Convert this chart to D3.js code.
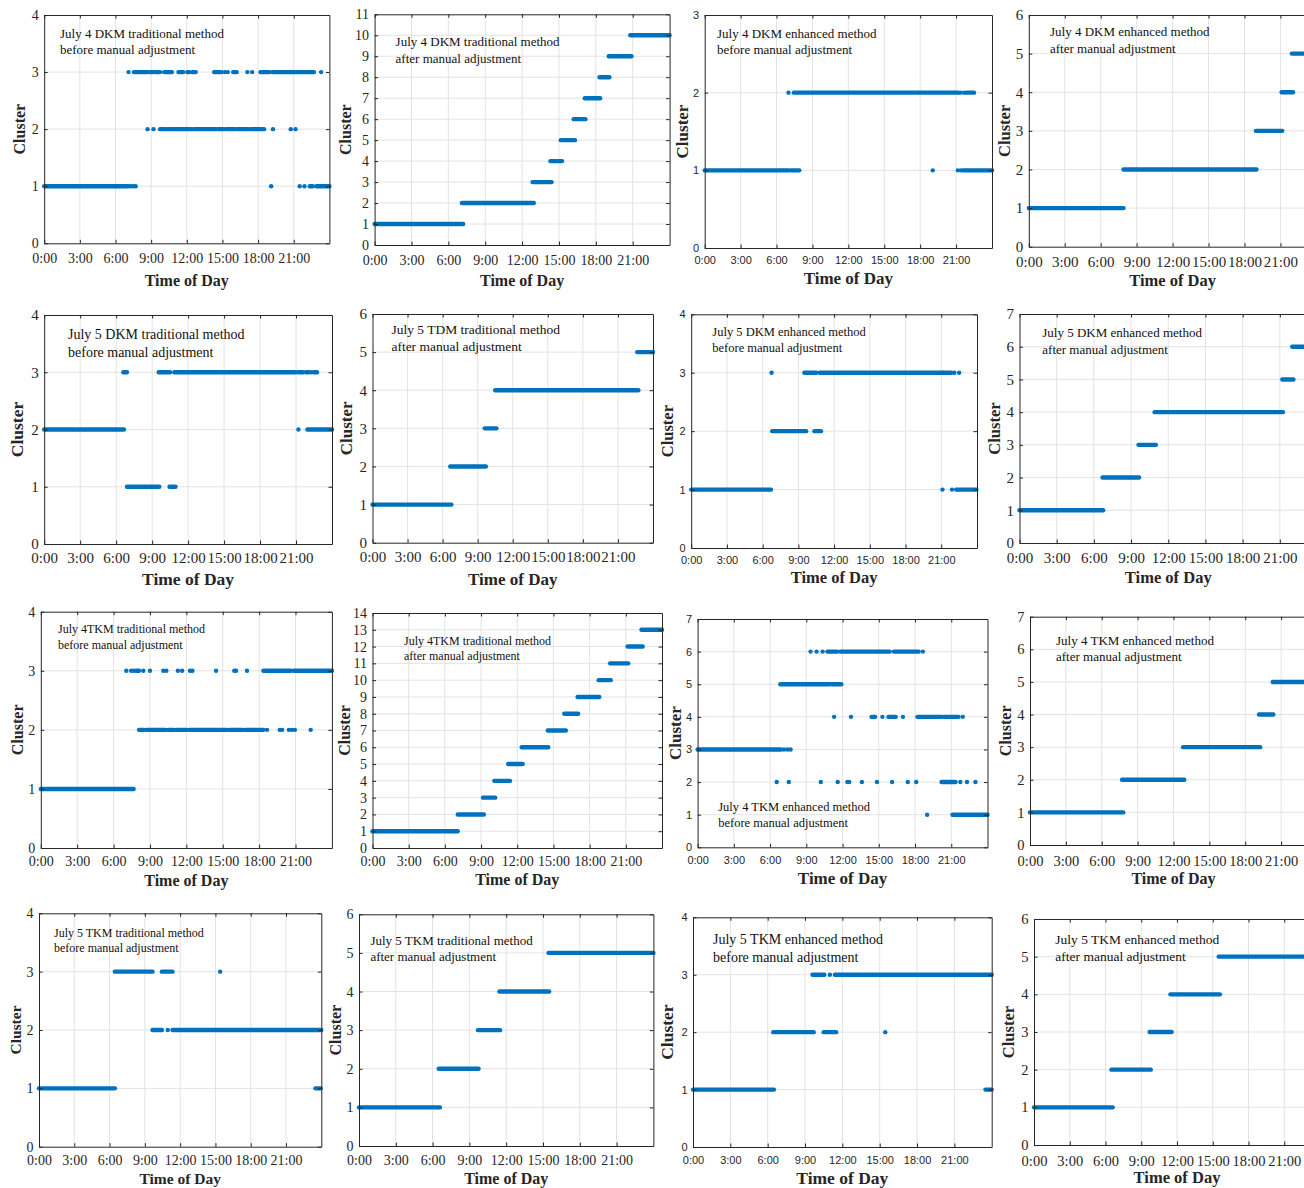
<!DOCTYPE html>
<html>
<head>
<meta charset="utf-8">
<title>Cluster timelines</title>
<script src="https://cdn.jsdelivr.net/npm/d3@7"></script>
<style>
  * { margin: 0; padding: 0; }
  body { background: #fff; }
  svg { display: block; }
</style>
</head>
<body>
<div id="chart"></div>
<script>
// runs are [cluster, startHour, endHour]; single samples are [cluster, hour]
var jul4DkmTradBefore = [
  [1,0,7.1],[1,7.3],[1,7.5],[1,7.7],[1,19.1],[1,21.5],[1,21.9],[1,22.35,22.6],[1,22.9,24],
  [2,8.7],[2,9.2],[2,9.75,10.3],[2,10.5,11.5],[2,11.6,12.4],[2,12.6,14.4],[2,14.6,15.1],[2,15.3,16.0],
  [2,16.2,17.2],[2,17.4,18.5],[2,19.25],[2,20.75],[2,21.15],
  [3,7.1],[3,7.55,8.7],[3,8.9,9.2],[3,9.4,9.75],[3,10.1,10.75],[3,11.3,11.7],[3,12.05,12.2],[3,12.45,12.75],
  [3,14.3,14.9],[3,15.2],[3,15.45],[3,15.9,16.2],[3,17.1],[3,17.5],[3,18.2,19.0],[3,19.25,22.7],[3,23.3]
];
var jul4DkmTradAfter = [
  [1,0,7.2],[2,7.1,12.95],[3,12.85,14.4],[4,14.3,15.25],[5,15.15,16.3],[6,16.2,17.15],
  [7,17.1,18.35],[8,18.3,19.1],[9,19.05,20.9],[10,20.8,24]
];
var jul4DkmEnhBefore = [
  [1,0,7.0],[1,7.2,7.9],[1,19.05],[1,21.15],[1,21.4],[1,21.6,24],
  [2,7.0],[2,7.45,21.2],[2,21.4],[2,21.7],[2,21.9,22.5]
];
var jul4DkmEnhAfter = [
  [1,0,7.9],[2,7.9,19.0],[3,18.95,21.15],[4,21.1,22.05],[5,21.95,24]
];
var jul5DkmTradBefore = [
  [2,0,6.65],[2,21.2],[2,21.95,24],
  [3,6.6,6.9],[3,9.55,10.5],[3,10.85,21.0],[3,21.2,21.6],[3,21.85,22.1],[3,22.3],[3,22.5,22.75],
  [1,6.9,9.6],[1,10.45,10.95]
];
var jul5TdmTradAfter = [
  [1,0,6.75],[2,6.65,9.7],[3,9.6,10.6],[4,10.5,22.75],[5,22.65,24]
];
var jul5DkmEnhBefore = [
  [1,0,6.7],[1,21.1],[1,21.9],[1,22.25,23.95],
  [3,6.75],[3,9.5,10.5],[3,10.8,21.1],[3,21.15,21.85],[3,22.1],[3,22.5],
  [2,6.8,9.65],[2,10.35,10.9]
];
var jul5DkmEnhAfter = [
  [1,0,6.75],[2,6.7,9.65],[3,9.6,11.0],[4,10.9,21.25],[5,21.2,22.1],[6,22.0,24]
];
var jul4TkmTradBefore = [
  [1,0,7.0],[1,7.1,7.65],
  [2,8.1,8.5],[2,8.7,10.3],[2,10.5,11.0],[2,11.2,12.0],[2,12.2,15.3],[2,15.5,16.7],[2,16.9,18.35],
  [2,18.65],[2,19.7],[2,19.9],[2,20.45],[2,20.7],[2,20.95],[2,22.25],
  [3,7.05],[3,7.45],[3,7.65],[3,7.85,8.1],[3,8.45],[3,9.0],[3,10.1],[3,10.35],[3,11.3],[3,11.65],
  [3,12.3],[3,12.5],[3,14.45],[3,15.95],[3,16.1],[3,17.0],[3,18.35,20.6],[3,20.85,24]
];
var jul4TkmTradAfter = [
  [1,0,7.07],[2,7.07,9.23],[3,9.16,10.17],[4,10.1,11.4],[5,11.25,12.45],[6,12.37,14.57],[7,14.53,16.03],
  [8,15.9,17.05],[9,17.0,18.8],[10,18.75,19.75],[11,19.7,21.2],[12,21.15,22.4],[13,22.3,24]
];
var jul4TkmEnhBefore = [
  [3,0,6.9],[3,7.15],[3,7.45],[3,7.7],
  [5,6.85,10.0],[5,10.05,10.9],[5,11.1,11.9],
  [6,9.35],[6,9.85],[6,10.35],[6,10.75,11.55],[6,11.8,15.9],[6,16.25,18.3],[6,18.65],
  [4,11.3],[4,12.7],[4,14.4,14.7],[4,15.3],[4,15.8,16.4],[4,17.0],[4,18.2,20.2],[4,20.4,21.6],[4,21.95],
  [2,6.55],[2,7.55],[2,10.2],[2,11.6],[2,12.4],[2,12.55],[2,13.6],[2,14.85],[2,16.1],[2,17.4],[2,18.1],
  [2,20.2,21.35],[2,21.75],[2,22.3],[2,23.0],
  [1,19.0],[1,21.1,24]
];
var jul4TkmEnhAfter = [
  [1,0,7.8],[2,7.7,12.9],[3,12.8,19.25],[4,19.15,20.35],[5,20.3,23.1],[6,23.1,24]
];
var jul5TkmTradBefore = [
  [1,0,6.45],[1,23.5,23.95],
  [3,6.45,9.65],[3,10.45,11.35],[3,15.4],
  [2,9.65,10.45],[2,10.95],[2,11.35,24]
];
var jul5TkmTradAfter = [
  [1,0,6.6],[2,6.5,9.75],[3,9.7,11.5],[4,11.45,15.5],[5,15.45,24]
];
var jul5TkmEnhBefore = [
  [1,0,6.5],[1,23.5,24],
  [3,9.6,10.55],[3,11.0],[3,11.4,24],
  [2,6.45,9.7],[2,10.5,11.5],[2,15.45]
];
var jul5TkmEnhAfter = [
  [1,0,6.6],[2,6.5,9.8],[3,9.7,11.55],[4,11.45,15.6],[5,15.5,24]
];

var panelData = [
  jul4DkmTradBefore, jul4DkmTradAfter, jul4DkmEnhBefore, jul4DkmEnhAfter,
  jul5DkmTradBefore, jul5TdmTradAfter, jul5DkmEnhBefore, jul5DkmEnhAfter,
  jul4TkmTradBefore, jul4TkmTradAfter, jul4TkmEnhBefore, jul4TkmEnhAfter,
  jul5TkmTradBefore, jul5TkmTradAfter, jul5TkmEnhBefore, jul5TkmEnhAfter
];
var clusterMax = [4, 11, 3, 6, 4, 6, 4, 7, 4, 14, 7, 7, 4, 6, 4, 6];
var titleTop = [
  'July 4 DKM traditional method', 'July 4 DKM traditional method',
  'July 4 DKM enhanced method', 'July 4 DKM enhanced method',
  'July 5 DKM traditional method', 'July 5 TDM traditional method',
  'July 5 DKM enhanced method', 'July 5 DKM enhanced method',
  'July 4TKM traditional method', 'July 4TKM traditional method',
  'July 4 TKM enhanced method', 'July 4 TKM enhanced method',
  'July 5 TKM traditional method', 'July 5 TKM traditional method',
  'July 5 TKM enhanced method', 'July 5 TKM enhanced method'
];
var titleBottom = [
  'before manual adjustment', 'after manual adjustment',
  'before manual adjustment', 'after manual adjustment',
  'before manual adjustment', 'after manual adjustment',
  'before manual adjustment', 'after manual adjustment',
  'before manual adjustment', 'after manual adjustment',
  'before manual adjustment', 'after manual adjustment',
  'before manual adjustment', 'after manual adjustment',
  'before manual adjustment', 'after manual adjustment'
];
var tickHours = [0, 3, 6, 9, 12, 15, 18, 21];
var tickLabels = ['0:00', '3:00', '6:00', '9:00', '12:00', '15:00', '18:00', '21:00'];
var xTitle = 'Time of Day';
var yTitle = 'Cluster';

// where each small plot sits on the page
var layout = [
  {l:44.2, r:329.4, t:15, b:243.3, font:'serif', ts:14, xo:15, ls:16, cx:25, xly:280, tx:60, ty:33, tsz:13},
  {l:374.6, r:669.6, t:14.3, b:245, font:'serif', ts:14, xo:15, ls:16, cx:29.5, xly:280, tx:395.6, ty:41.7, tsz:13},
  {l:704.7, r:992, t:15, b:248, font:'sans', ts:11, xo:12, ls:17, cx:23, xly:278, tx:717, ty:33.3, tsz:13},
  {l:1028.8, r:1316.4, t:15, b:246.7, font:'serif', ts:15, xo:15.5, ls:16.5, cx:25, xly:280, tx:1050, ty:31.7, tsz:13},
  {l:44.2, r:332, t:315, b:544, font:'serif', ts:15, xo:14.5, ls:17.5, cx:27, xly:579.3, tx:68, ty:334.3, tsz:14},
  {l:372.5, r:653, t:314, b:542.7, font:'serif', ts:15, xo:14.5, ls:17, cx:26.5, xly:579, tx:391.4, ty:329.3, tsz:13.5},
  {l:691.2, r:977, t:314.3, b:548, font:'sans', ts:11, xo:12, ls:16.5, cx:23.5, xly:577.7, tx:712.3, ty:331.7, tsz:12.5},
  {l:1019.5, r:1317, t:314, b:543, font:'serif', ts:15, xo:15.5, ls:16.5, cx:25.5, xly:577.7, tx:1042.3, ty:332.7, tsz:13},
  {l:40.8, r:331.9, t:611.7, b:848, font:'serif', ts:14, xo:13.7, ls:16, cx:23, xly:880, tx:58, ty:629, tsz:12},
  {l:372.5, r:662, t:613, b:848, font:'serif', ts:14, xo:13.7, ls:16, cx:28.5, xly:879, tx:404, ty:640.7, tsz:12},
  {l:697.6, r:987.5, t:619, b:847.3, font:'sans', ts:11, xo:12.7, ls:17, cx:23, xly:878.3, tx:718.2, ty:806.7, tsz:12.5},
  {l:1030, r:1317, t:616.7, b:845, font:'serif', ts:14.5, xo:16, ls:16, cx:24.4, xly:878, tx:1056, ty:640, tsz:13},
  {l:39, r:321.3, t:913.3, b:1146.7, font:'serif', ts:14, xo:13.5, ls:15.5, cx:23, xly:1178.5, tx:54, ty:932.7, tsz:12},
  {l:359, r:653.4, t:914.3, b:1146, font:'serif', ts:14, xo:14, ls:16, cx:23.6, xly:1178, tx:370.4, ty:940, tsz:13},
  {l:693, r:991.7, t:917.3, b:1147, font:'sans', ts:11, xo:13, ls:17.5, cx:26, xly:1177.5, tx:713, ty:939.3, tsz:14},
  {l:1034, r:1320, t:919, b:1145, font:'serif', ts:14.5, xo:16, ls:16.5, cx:26, xly:1177.5, tx:1055.3, ty:939, tsz:13.5}
];

var SERIF = '"Liberation Serif", "Times New Roman", serif';
var SANS = '"Liberation Sans", Arial, sans-serif';
var blue = '#0072bd';
var ink = '#262626';

var svg = d3.select('#chart').append('svg')
    .attr('width', 1304)
    .attr('height', 1188);

panelData.forEach(function(runs, i) {
  var L = layout[i];
  var tickFont = L.font === 'sans' ? SANS : SERIF;
  var x = d3.scaleLinear().domain([0, 24]).range([L.l, L.r]);
  var y = d3.scaleLinear().domain([0, clusterMax[i]]).range([L.b, L.t]);
  var yTicks = d3.range(clusterMax[i] + 1);
  var g = svg.append('g');

  // grid
  g.selectAll('.vg').data(tickHours.slice(1)).enter().append('line')
    .attr('x1', function(d) { return x(d); }).attr('x2', function(d) { return x(d); })
    .attr('y1', L.t).attr('y2', L.b)
    .attr('stroke', '#e3e3e3').attr('stroke-width', 1);
  g.selectAll('.hg').data(yTicks.slice(1, -1)).enter().append('line')
    .attr('x1', L.l).attr('x2', L.r)
    .attr('y1', function(d) { return y(d); }).attr('y2', function(d) { return y(d); })
    .attr('stroke', '#e3e3e3').attr('stroke-width', 1);

  // marks
  var segs = runs.filter(function(d) { return d.length === 3; });
  var pts = runs.filter(function(d) { return d.length === 2; });
  g.selectAll('.run').data(segs).enter().append('line')
    .attr('x1', function(d) { return x(d[1]); })
    .attr('x2', function(d) { return x(d[2]); })
    .attr('y1', function(d) { return y(d[0]); })
    .attr('y2', function(d) { return y(d[0]); })
    .attr('stroke', blue).attr('stroke-width', 4.4)
    .attr('stroke-linecap', 'round');
  g.selectAll('.pt').data(pts).enter().append('circle')
    .attr('cx', function(d) { return x(d[1]); })
    .attr('cy', function(d) { return y(d[0]); })
    .attr('r', 2.2)
    .attr('fill', blue);

  // axes, ticks pointing inward on all four sides
  var pad = L.xo - 0.38 * L.ts;
  var bottom = g.append('g').attr('transform', 'translate(0,' + L.b + ')')
    .call(d3.axisBottom(x).tickValues(tickHours)
      .tickFormat(function(d, k) { return tickLabels[k]; })
      .tickSize(-3.5).tickSizeOuter(0).tickPadding(pad));
  var top = g.append('g').attr('transform', 'translate(0,' + L.t + ')')
    .call(d3.axisTop(x).tickValues(tickHours).tickFormat('').tickSize(-3.5).tickSizeOuter(0));
  var left = g.append('g').attr('transform', 'translate(' + L.l + ',0)')
    .call(d3.axisLeft(y).tickValues(yTicks).tickFormat(d3.format('d'))
      .tickSize(-3.5).tickSizeOuter(0).tickPadding(5.5));
  var right = g.append('g').attr('transform', 'translate(' + L.r + ',0)')
    .call(d3.axisRight(y).tickValues(yTicks).tickFormat('').tickSize(-3.5).tickSizeOuter(0));

  [bottom, top, left, right].forEach(function(a) {
    a.selectAll('path').attr('stroke', ink).attr('stroke-width', 1);
    a.selectAll('line').attr('stroke', ink);
    a.selectAll('text').attr('fill', ink)
      .style('font-family', tickFont).style('font-size', L.ts + 'px');
  });

  // axis titles
  g.append('text')
    .attr('x', (L.l + L.r) / 2)
    .attr('y', L.xly).attr('dy', '0.35em')
    .attr('text-anchor', 'middle')
    .style('font-family', SERIF).style('font-weight', 'bold')
    .style('font-size', L.ls + 'px').attr('fill', ink)
    .text(xTitle);
  g.append('text')
    .attr('transform', 'translate(' + (L.l - L.cx) + ',' + ((L.t + L.b) / 2) + ') rotate(-90)')
    .attr('dy', '0.35em')
    .attr('text-anchor', 'middle')
    .style('font-family', SERIF).style('font-weight', 'bold')
    .style('font-size', L.ls + 'px').attr('fill', ink)
    .text(yTitle);

  // in-plot caption
  var cap = g.append('text')
    .style('font-family', SERIF).style('font-size', L.tsz + 'px').attr('fill', '#111');
  cap.append('tspan').attr('x', L.tx).attr('y', L.ty).attr('dy', '0.35em').text(titleTop[i]);
  cap.append('tspan').attr('x', L.tx).attr('y', L.ty + L.tsz * 1.28).attr('dy', '0.35em').text(titleBottom[i]);
});
</script>
</body>
</html>
